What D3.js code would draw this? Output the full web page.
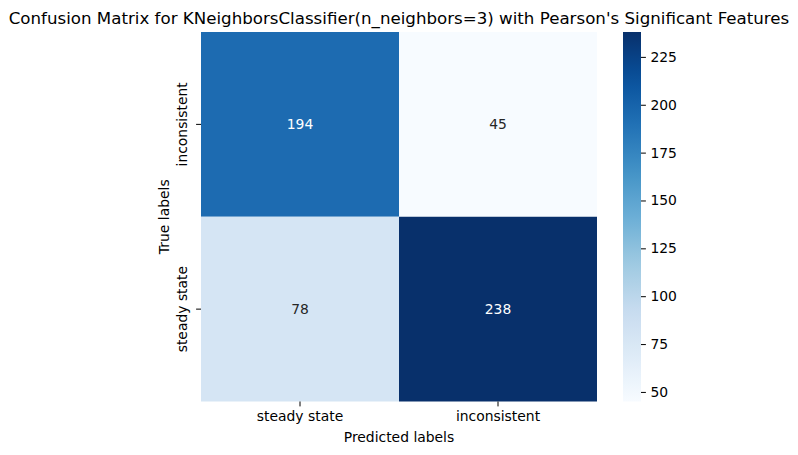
<!DOCTYPE html>
<html><head><meta charset="utf-8">
<script src="https://cdn.jsdelivr.net/npm/d3@7"></script>
<style>body{margin:0;background:#fff;} text{font-family:"DejaVu Sans",sans-serif;}</style>
</head><body>
<svg id="c" width="798" height="455"></svg>
<script>
const predictedLabels = ["steady state", "inconsistent"];
const trueLabels = ["inconsistent", "steady state"];
const matrix = [[194, 45], [78, 238]];
const colorbarTicks = [50, 75, 100, 125, 150, 175, 200, 225];
const title = "Confusion Matrix for KNeighborsClassifier(n_neighbors=3) with Pearson's Significant Features";

const svg = d3.select("#c");
const L = 201, R = 597, T = 32, B = 401.5;
const FS = "13.9px";
const flat = matrix.flat();
const vmin = d3.min(flat), vmax = d3.max(flat);
const blues = ["#f7fbff","#deebf7","#c6dbef","#9ecae1","#6baed6","#4292c6","#2171b5","#08519c","#08306b"];
const color = d3.scaleLinear().domain(blues.map((_, i) => vmin + (vmax - vmin) * i / 8)).range(blues).interpolate(d3.interpolateRgb);

const x = d3.scaleBand().domain(predictedLabels).range([L, R]);
const y = d3.scaleBand().domain(trueLabels).range([T, B]);

const cells = [];
trueLabels.forEach((t, i) => predictedLabels.forEach((p, j) => cells.push({t, p, v: matrix[i][j]})));
svg.selectAll("rect.cell").data(cells).enter().append("rect")
  .attr("x", d => x(d.p)).attr("y", d => y(d.t))
  .attr("width", x.bandwidth()).attr("height", y.bandwidth())
  .attr("fill", d => color(d.v));
svg.selectAll("text.ann").data(cells).enter().append("text")
  .attr("x", d => x(d.p) + x.bandwidth() / 2).attr("y", d => y(d.t) + y.bandwidth() / 2)
  .attr("text-anchor", "middle").attr("dominant-baseline", "central")
  .attr("font-size", FS)
  .attr("fill", d => (d.v - vmin) / (vmax - vmin) > 0.5 ? "#ffffff" : "#262626")
  .text(d => d.v);

// x axis
const xa = svg.append("g").attr("transform", `translate(0,${B})`)
  .call(d3.axisBottom(x).tickSize(4.9).tickPadding(4.5));
xa.select(".domain").remove();
xa.selectAll("text").attr("font-size", FS).attr("fill", "#000").attr("font-family", "DejaVu Sans");
xa.selectAll("line").attr("stroke", "#000").attr("stroke-width", 1);

// y axis
const ya = svg.append("g").attr("transform", `translate(${L},0)`)
  .call(d3.axisLeft(y).tickSize(4.9).tickPadding(4.5));
ya.select(".domain").remove();
ya.selectAll("line").attr("stroke", "#000");
ya.selectAll("text").attr("font-size", FS).attr("fill", "#000").attr("font-family", "DejaVu Sans")
  .attr("text-anchor", "middle").attr("dy", 0)
  .attr("transform", function() { return `translate(-14,0) rotate(-90)`; })
  .attr("x", 0).attr("y", 0).attr("dominant-baseline", "auto");

svg.append("text").attr("x", (L + R) / 2).attr("y", 442).attr("text-anchor", "middle")
  .attr("font-size", FS).text("Predicted labels");
svg.append("text").attr("transform", `translate(169,${(T + B) / 2}) rotate(-90)`)
  .attr("text-anchor", "middle").attr("font-size", FS).text("True labels");
svg.append("text").attr("x", (L + R) / 2).attr("y", 24).attr("text-anchor", "middle")
  .attr("font-size", "16.67px").text(title);

// colorbar
const CL = 623, CR = 641;
const cy = d3.scaleLinear().domain([vmin, vmax]).range([B, T]);
const defs = svg.append("defs");
const grad = defs.append("linearGradient").attr("id", "cb").attr("x1", 0).attr("x2", 0).attr("y1", 1).attr("y2", 0);
d3.range(0, 1.0001, 0.05).forEach(f => grad.append("stop").attr("offset", f).attr("stop-color", color(vmin + f * (vmax - vmin))));
svg.append("rect").attr("x", CL).attr("y", T).attr("width", CR - CL).attr("height", B - T).attr("fill", "url(#cb)");
const ca = svg.append("g").attr("transform", `translate(${CR},0)`)
  .call(d3.axisRight(cy).tickValues(colorbarTicks).tickSize(4.9).tickPadding(4.5));
ca.select(".domain").remove();
ca.selectAll("line").attr("stroke", "#000");
ca.selectAll("text").attr("font-size", FS).attr("fill", "#000").attr("font-family", "DejaVu Sans");
</script>
</body></html>
